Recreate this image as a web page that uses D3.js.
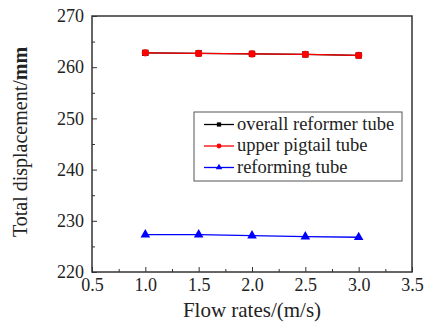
<!DOCTYPE html>
<html>
<head>
<meta charset="utf-8">
<script src="https://cdn.jsdelivr.net/npm/d3@7"></script>
<style>
body { margin: 0; background: #fff; }
</style>
</head>
<body>
<svg id="chart" width="425" height="322" font-family="Liberation Serif, DejaVu Serif, serif"></svg>
<script>
// flow rates (m/s)
var flowRates = [1.0, 1.5, 2.0, 2.5, 3.0];
// total displacement (mm)
var overallTube = [262.8, 262.7, 262.6, 262.5, 262.3];
var pigtailTube = [262.8, 262.7, 262.6, 262.5, 262.3];
var reformingTube = [227.3, 227.3, 227.1, 226.9, 226.8];
var xTicks = [0.5, 1.0, 1.5, 2.0, 2.5, 3.0, 3.5];
var yTicks = [220, 230, 240, 250, 260, 270];

var serif = "Liberation Serif, DejaVu Serif, serif";

var margin = {top: 16, right: 13, bottom: 50, left: 92},
    width = 425 - margin.left - margin.right,
    height = 322 - margin.top - margin.bottom;

var svg = d3.select("#chart")
  .append("g")
    .attr("transform", "translate(" + margin.left + "," + margin.top + ")");

var x = d3.scaleLinear().domain([0.5, 3.5]).range([0, width]);
var y = d3.scaleLinear().domain([220, 270]).range([height, 0]);

// frame
svg.append("rect")
    .attr("width", width)
    .attr("height", height)
    .attr("fill", "none")
    .attr("stroke", "#333")
    .attr("stroke-width", 1.5);

// x axis, ticks inward
var xMinor = d3.range(0.75, 3.5, 0.5);
svg.append("g")
    .attr("transform", "translate(0," + height + ")")
    .call(d3.axisBottom(x).tickValues(xMinor).tickSize(-3).tickFormat(""))
    .call(g => g.select(".domain").remove());
var xa = svg.append("g")
    .attr("transform", "translate(0," + height + ")")
    .call(d3.axisBottom(x).tickValues(xTicks).tickSize(-5).tickPadding(6)
      .tickFormat(d3.format(".1f")));
xa.select(".domain").remove();
xa.attr("font-family", serif).attr("font-size", 18);
xa.selectAll("text").attr("fill", "#222");

// y axis, ticks inward
var yMinor = d3.range(225, 270, 10);
svg.append("g")
    .call(d3.axisLeft(y).tickValues(yMinor).tickSize(-3).tickFormat(""))
    .call(g => g.select(".domain").remove());
var ya = svg.append("g")
    .call(d3.axisLeft(y).tickValues(yTicks).tickSize(-5).tickPadding(8));
ya.select(".domain").remove();
ya.attr("font-family", serif).attr("font-size", 18);
ya.selectAll("text").attr("fill", "#222");
svg.selectAll(".tick line").attr("stroke", "#333");

// axis titles
svg.append("text")
    .attr("x", width / 2)
    .attr("y", height + 45)
    .attr("text-anchor", "middle")
    .attr("font-family", serif)
    .attr("font-size", 21)
    .attr("fill", "#222")
    .text("Flow rates/(m/s)");

var yl = svg.append("text")
    .attr("transform", "rotate(-90)")
    .attr("x", -height / 2 + 2)
    .attr("y", -65)
    .attr("text-anchor", "middle")
    .attr("font-family", serif)
    .attr("font-size", 20)
    .attr("fill", "#222");
yl.append("tspan").text("Total displacement/");
yl.append("tspan").attr("font-weight", "bold").text("mm");

var series = [
  {name: "overall reformer tube", values: overallTube, color: "#000000", shape: d3.symbolSquare},
  {name: "upper pigtail tube", values: pigtailTube, color: "#ff0000", shape: d3.symbolCircle},
  {name: "reforming tube", values: reformingTube, color: "#0000ff", shape: d3.symbolTriangle}
];

var line = d3.line()
    .x(function(d) { return x(d.x); })
    .y(function(d) { return y(d.y); });

series.forEach(function(s) {
  var pts = flowRates.map(function(f, i) { return {x: f, y: s.values[i]}; });
  svg.append("path")
      .datum(pts)
      .attr("fill", "none")
      .attr("stroke", s.color)
      .attr("stroke-width", 1.4)
      .attr("d", line);
  svg.selectAll(null)
      .data(pts)
      .enter().append("path")
      .attr("transform", function(d) { return "translate(" + x(d.x) + "," + y(d.y) + ")"; })
      .attr("d", d3.symbol().type(s.shape).size(40))
      .attr("fill", s.color);
});

// legend
var lg = svg.append("g").attr("transform", "translate(" + (194 - margin.left) + "," + (112 - margin.top) + ")");
lg.append("rect")
    .attr("width", 208)
    .attr("height", 69)
    .attr("fill", "#fff")
    .attr("stroke", "#555")
    .attr("stroke-width", 1);
series.forEach(function(s, i) {
  var cy = 12.5 + i * 21.5;
  lg.append("line")
      .attr("x1", 10).attr("x2", 40)
      .attr("y1", cy).attr("y2", cy)
      .attr("stroke", s.color)
      .attr("stroke-width", 1.3);
  lg.append("path")
      .attr("transform", "translate(25," + cy + ")")
      .attr("d", d3.symbol().type(s.shape).size(18))
      .attr("fill", s.color);
  lg.append("text")
      .attr("x", 43)
      .attr("y", cy + 5)
      .attr("font-family", serif)
      .attr("font-size", 18.5)
      .attr("fill", "#222")
      .text(s.name);
});
</script>
</body>
</html>
